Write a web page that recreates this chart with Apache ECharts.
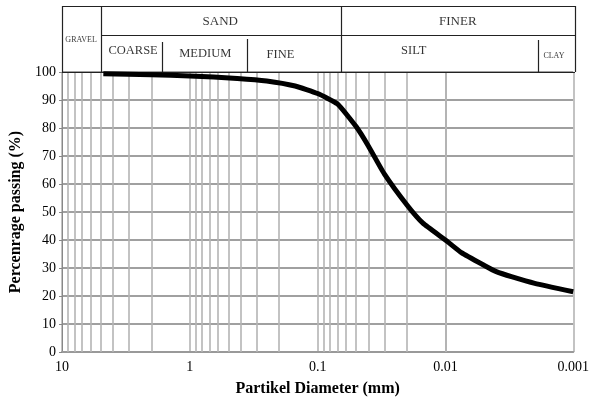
<!DOCTYPE html>
<html><head><meta charset="utf-8">
<script src="https://cdn.jsdelivr.net/npm/echarts@6/dist/echarts.min.js"></script>
<style>html,body{margin:0;padding:0;background:#fff}#c{width:592px;height:403px}</style>
</head><body><div id="c"></div>
<script>
// ---- data ----
const diameters = [4.75, 2, 1, 0.425, 0.25, 0.15, 0.1, 0.07, 0.05, 0.04, 0.03, 0.02, 0.015, 0.01, 0.0075, 0.005, 0.004, 0.003, 0.002, 0.001];
const passing   = [99.4, 99.0, 98.6, 97.7, 96.8, 95.0, 92.3, 88.6, 80.5, 73.5, 63.5, 52.5, 46.0, 40.0, 35.5, 31.0, 28.7, 26.8, 24.5, 21.5];
const xTickValues = [10, 1, 0.1, 0.01, 0.001];
const yTickValues = [0, 10, 20, 30, 40, 50, 60, 70, 80, 90, 100];
const minorMultipliers = [2, 3, 4, 5, 6, 7, 8, 9];
const decadeStarts = [1, 0.1, 0.01, 0.001];
// soil classification header
const headerLabels = ['GRAVEL', 'SAND', 'FINER', 'COARSE', 'MEDIUM', 'FINE', 'SILT', 'CLAY'];
const headerLabelDiam = [7.1, 0.583, 0.0082, 2.79, 0.764, 0.198, 0.0181, 0.00146];
const headerLabelRow = [0.485, 0.76, 0.76, 0.32, 0.27, 0.26, 0.33, 0.24];
const gravelSand = 4.9, sandFiner = 0.067, coarseMedium = 1.65, mediumFine = 0.36, siltClay = 0.00195;

// ---- build ----
const FONT = 'Liberation Serif';
const minorVals = [];
decadeStarts.forEach(d => minorMultipliers.forEach(m => minorVals.push(+(d * m).toPrecision(6))));
const curve = diameters.map((d, i) => [d, passing[i]]);
const xMin = Math.min(...xTickValues), xMax = Math.max(...xTickValues);
const yMin = Math.min(...yTickValues), yMax = Math.max(...yTickValues);

const headerSegs = [
  [[xMax, 1], [xMin, 1]],
  [[xMax, 0], [xMax, 1]],
  [[xMin, 0], [xMin, 1]],
  [[xMax, 0], [xMin, 0]],
  [[gravelSand, 0], [gravelSand, 1]],
  [[sandFiner, 0], [sandFiner, 1]],
  [[gravelSand, 0.56], [xMin, 0.56]],
  [[coarseMedium, 0], [coarseMedium, 0.455]],
  [[mediumFine, 0], [mediumFine, 0.5]],
  [[siltClay, 0], [siltClay, 0.485]]
];
const smallLabels = ['GRAVEL', 'CLAY'];
const topLabels = ['SAND', 'FINER'];

const chart = echarts.init(document.getElementById('c'), null, {renderer: 'canvas'});
const xBase = {type: 'log', logBase: 10, inverse: true, min: xMin, max: xMax};
chart.setOption({
  animation: false,
  backgroundColor: '#fff',
  grid: [
    {left: 62, right: 17, top: 72, height: 280},
    {left: 62, right: 17, top: 6, height: 66}
  ],
  xAxis: [
    Object.assign({}, xBase, {
      gridIndex: 0,
      name: 'Partikel Diameter (mm)', nameLocation: 'middle', nameGap: 29,
      nameTextStyle: {fontFamily: FONT, fontWeight: 'bold', fontSize: 16, color: '#000'},
      axisLine: {show: true, lineStyle: {color: '#999', width: 2}},
      axisTick: {show: false},
      axisLabel: {fontFamily: FONT, fontSize: 14, color: '#000', margin: 8,
        formatter: v => String(+(+v).toPrecision(6))},
      splitLine: {show: true, lineStyle: {color: '#b4b4b4', width: 1.6}}
    }),
    Object.assign({}, xBase, {gridIndex: 1, show: false})
  ],
  yAxis: [
    {type: 'value', gridIndex: 0, min: yMin, max: yMax, interval: 10,
     name: 'Percenrage passing (%)', nameLocation: 'middle', nameGap: 38,
     nameTextStyle: {fontFamily: FONT, fontWeight: 'bold', fontSize: 16, color: '#000'},
     axisLine: {show: true, lineStyle: {color: '#888', width: 1}},
     axisTick: {show: true, length: 3, lineStyle: {color: '#888'}},
     axisLabel: {fontFamily: FONT, fontSize: 14, color: '#000', margin: 6},
     splitLine: {show: true, lineStyle: {color: '#a0a0a0', width: 2}}},
    {type: 'value', gridIndex: 1, min: 0, max: 1, show: false}
  ],
  series: [
    {
      type: 'line', xAxisIndex: 0, yAxisIndex: 0, z: 1,
      data: curve, showSymbol: false, lineStyle: {opacity: 0, width: 0}, silent: true,
      markLine: {
        silent: true, symbol: 'none', label: {show: false},
        lineStyle: {color: '#b4b4b4', width: 1.6, type: 'solid'},
        data: minorVals.map(v => ({xAxis: v}))
      }
    },
    {
      type: 'line', xAxisIndex: 0, yAxisIndex: 0, z: 5,
      data: curve, showSymbol: false, smooth: 0.15,
      lineStyle: {color: '#000', width: 5}
    },
    {
      type: 'scatter', xAxisIndex: 1, yAxisIndex: 1, z: 5,
      symbolSize: 0,
      data: headerLabels.map((t, i) => ({
        value: [headerLabelDiam[i], headerLabelRow[i]], name: t,
        label: {fontSize: smallLabels.includes(t) ? 8 : (topLabels.includes(t) ? 13 : 12.5)}
      })),
      label: {
        show: true, position: 'inside', color: '#000', fontFamily: FONT,
        formatter: p => p.name
      },
      markLine: {
        silent: true, symbol: 'none', label: {show: false},
        lineStyle: {color: '#222', width: 1.2, type: 'solid'},
        data: headerSegs.map(s => [{coord: s[0]}, {coord: s[1]}])
      }
    }
  ]
});
</script></body></html>
